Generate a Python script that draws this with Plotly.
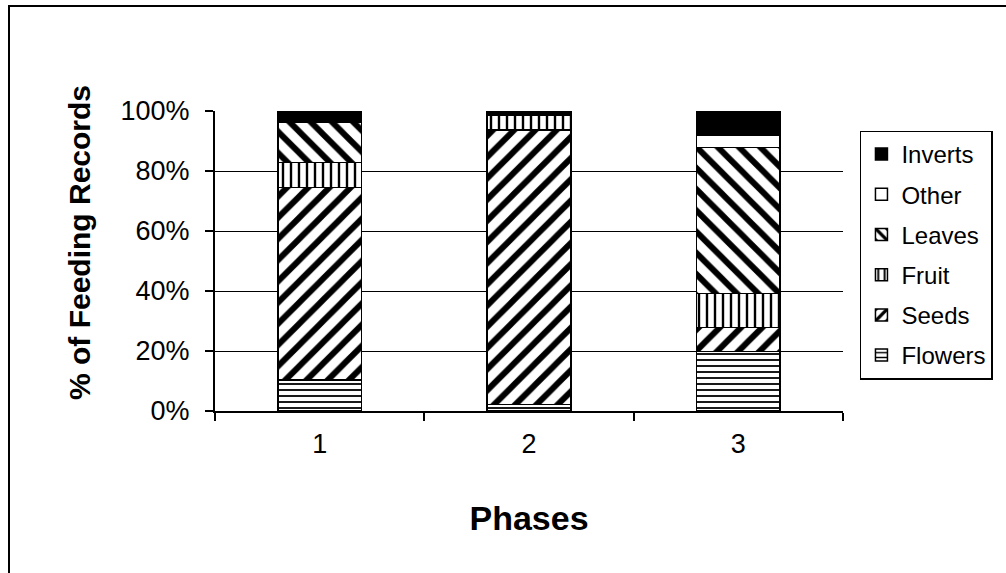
import plotly.graph_objects as go

phases = ["1", "2", "3"]
flowers = [10.3, 2.2, 19.8]
seeds = [64.2, 91.5, 8.0]
fruit = [8.3, 5.0, 11.4]
leaves = [13.6, 0.0, 48.6]
other = [0.0, 0.0, 4.2]
inverts = [3.6, 1.3, 8.0]

series = [
    ("Flowers", flowers, dict(shape="-", size=6, solidity=0.3)),
    ("Seeds", seeds, dict(shape="/", size=15, solidity=0.4)),
    ("Fruit", fruit, dict(shape="|", size=8, solidity=0.3)),
    ("Leaves", leaves, dict(shape="\\", size=15, solidity=0.4)),
    ("Other", other, dict(shape="")),
    ("Inverts", inverts, None),
]

fig = go.Figure()
n = len(series)
for i, (name, vals, pat) in enumerate(series):
    marker = dict(line=dict(color="black", width=1.5))
    if pat is None:
        marker["color"] = "black"
    else:
        marker["color"] = "white"
        if pat.get("shape"):
            marker["pattern"] = dict(fgcolor="black", bgcolor="white", fillmode="replace",
                                     fgopacity=1, **pat)
    fig.add_trace(go.Bar(
        x=phases, y=[v / 100 for v in vals], name=name, marker=marker,
        width=0.4, legendgroup=name, legendrank=n - i,
    ))

font = "Liberation Sans, Arial, sans-serif"
fig.update_layout(
    width=1006, height=573,
    margin=dict(l=215, r=163, t=111, b=162),
    barmode="stack",
    plot_bgcolor="white", paper_bgcolor="white",
    font=dict(family=font, color="black"),
    showlegend=True,
    legend=dict(
        traceorder="grouped", x=1.027, y=0.935, xanchor="left", yanchor="top",
        bordercolor="black", borderwidth=1.5, bgcolor="white",
        font=dict(size=24, family=font), tracegroupgap=6,
    ),
    xaxis=dict(
        type="category", range=[-0.5, 2.5], showline=True, linecolor="black", linewidth=2,
        ticks="outside", ticklen=8, tickwidth=2, tickcolor="black", tickson="boundaries",
        tickfont=dict(size=27), showgrid=False, ticklabelstandoff=8,
        title=dict(text="<b>Phases</b>", font=dict(size=34), standoff=48),
    ),
    yaxis=dict(
        range=[0, 1], dtick=0.2, tickformat=".0%", showline=True, linecolor="black", linewidth=2,
        ticks="outside", ticklen=8, tickwidth=2, tickcolor="black",
        showgrid=True, gridcolor="black", gridwidth=1, zeroline=False,
        tickfont=dict(size=27), ticklabelstandoff=10,
    ),
    annotations=[dict(
        text="<b>% of Feeding Records</b>", textangle=-90, showarrow=False,
        xref="paper", yref="paper", x=(80 - 215) / 628, y=(411 - 243) / 300,
        xanchor="center", yanchor="middle", font=dict(size=30, family=font),
    )],
    shapes=[dict(
        type="rect", xref="paper", yref="paper",
        x0=(9 - 215) / 628, x1=(1015 - 215) / 628,
        y0=(411 - 585) / 300, y1=(411 - 6) / 300,
        line=dict(color="black", width=2), fillcolor="rgba(0,0,0,0)", layer="below",
    )],
)

fig.write_html("out.html")
